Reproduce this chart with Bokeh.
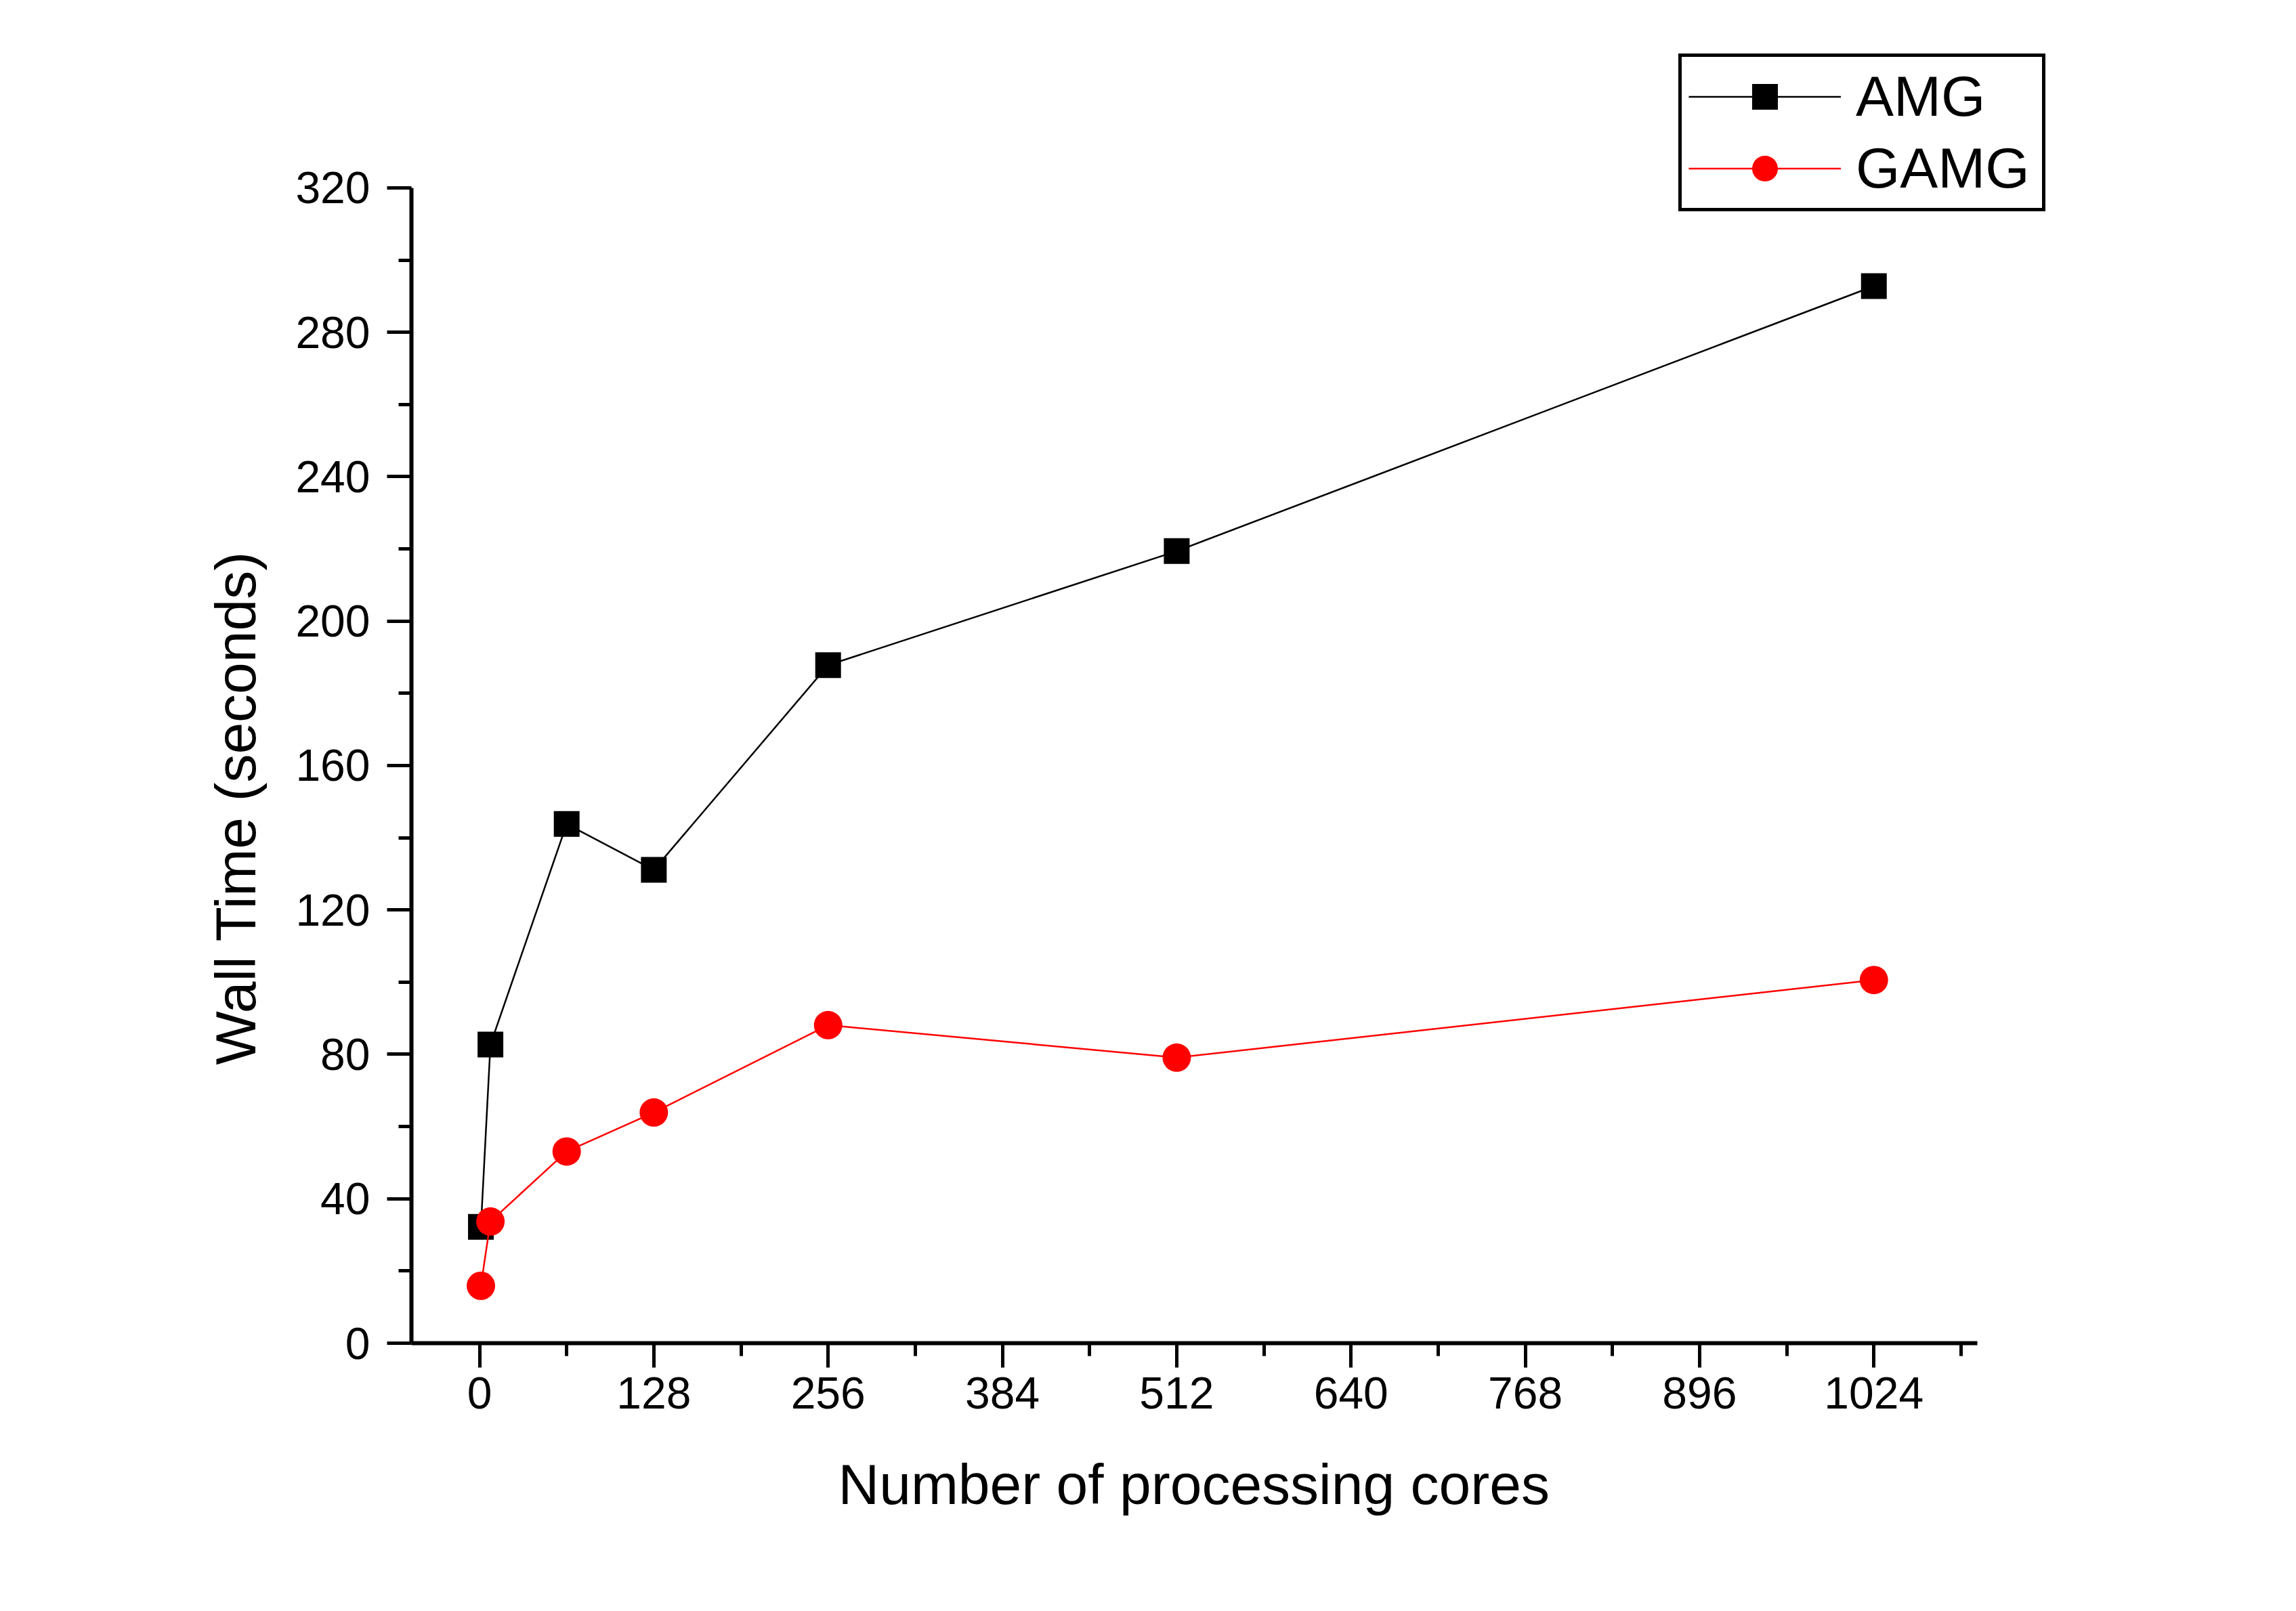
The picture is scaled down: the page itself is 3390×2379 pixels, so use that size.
from bokeh.plotting import figure
from bokeh.models import Range1d, FixedTicker, Legend, LegendItem, Title
from bokeh.embed import file_html
from bokeh.resources import INLINE

# ---- data ----
cores = [1, 8, 64, 128, 256, 512, 1024]
amg_time = [32.2, 82.7, 143.8, 131.1, 187.8, 219.4, 292.8]
gamg_time = [15.9, 33.7, 53.1, 63.9, 88.1, 79.1, 100.6]

series_names = ["AMG", "GAMG"]
x_major_ticks = [0, 128, 256, 384, 512, 640, 768, 896, 1024]
x_minor_ticks = [64, 192, 320, 448, 576, 704, 832, 960, 1088]
y_major_ticks = [0, 40, 80, 120, 160, 200, 240, 280, 320]
y_minor_ticks = [20, 60, 100, 140, 180, 220, 260, 300]

x_label = "Number of processing cores"
y_label = "Wall Time (seconds)"

FONT = "Liberation Sans"
W, H = 3370, 2360
FL, FR, FT, FB = 607, 3100, 68, 1983   # frame edges (px)

# frame extends beyond the axes (which are bounded) so the legend fits inside it
p = figure(
    width=W, height=H,
    x_range=Range1d(-50, 1190), y_range=Range1d(0, 359.2),
    output_backend="svg", toolbar_location=None,
    min_border_left=FL, min_border_right=W - FR,
    min_border_top=FT, min_border_bottom=H - FB,
)
p.outline_line_color = None
p.grid.visible = False
p.background_fill_color = "white"
p.border_fill_color = "white"

for ax in (p.xaxis[0], p.yaxis[0]):
    ax.axis_line_width = 6
    ax.axis_line_color = "black"
    ax.major_tick_line_width = 5
    ax.minor_tick_line_width = 5
    ax.major_tick_line_color = "black"
    ax.minor_tick_line_color = "black"
    ax.major_tick_in = 0
    ax.minor_tick_in = 0
    ax.major_tick_out = 36
    ax.minor_tick_out = 19
    ax.major_label_text_font = FONT
    ax.major_label_text_font_size = "66px"
    ax.major_label_text_color = "black"

p.xaxis[0].ticker = FixedTicker(ticks=x_major_ticks, minor_ticks=x_minor_ticks)
p.yaxis[0].ticker = FixedTicker(ticks=y_major_ticks, minor_ticks=y_minor_ticks)
p.xaxis[0].bounds = (-50, 1100)
p.yaxis[0].bounds = (y_major_ticks[0], y_major_ticks[-1])
p.xaxis[0].major_label_standoff = 14
p.yaxis[0].major_label_standoff = 25

# axis titles (side titles, positioned along the bounded axes)
p.add_layout(Title(text=y_label, align="left", offset=411, standoff=78,
                   text_font=FONT, text_font_size="84px",
                   text_font_style="normal", text_color="black"), "left")
p.add_layout(Title(text=x_label, align="left", offset=630, standoff=120,
                   text_font=FONT, text_font_size="84px",
                   text_font_style="normal", text_color="black"), "below")

l1 = p.line(cores, amg_time, line_color="black", line_width=2.5)
s1 = p.scatter(cores, amg_time, marker="square", size=38,
               fill_color="black", line_color="black", line_width=0)
l2 = p.line(cores, gamg_time, line_color="#FF0000", line_width=2.5)
s2 = p.scatter(cores, gamg_time, marker="circle", size=42,
               fill_color="#FF0000", line_color="#FF0000", line_width=0)

legend = Legend(
    items=[LegendItem(label=series_names[0], renderers=[l1, s1]),
           LegendItem(label=series_names[1], renderers=[l2, s2])],
    location=(2478 - FL, FB - 312),
    label_text_font=FONT, label_text_font_size="84px", label_text_color="black",
    glyph_width=225, glyph_height=95, label_standoff=22, label_width=265,
    padding=10, spacing=9, margin=0,
    border_line_color="black", border_line_width=5, border_line_alpha=1.0,
    background_fill_color="white", background_fill_alpha=1.0,
)
p.add_layout(legend)

open("out.html", "w").write(file_html(p, INLINE))
